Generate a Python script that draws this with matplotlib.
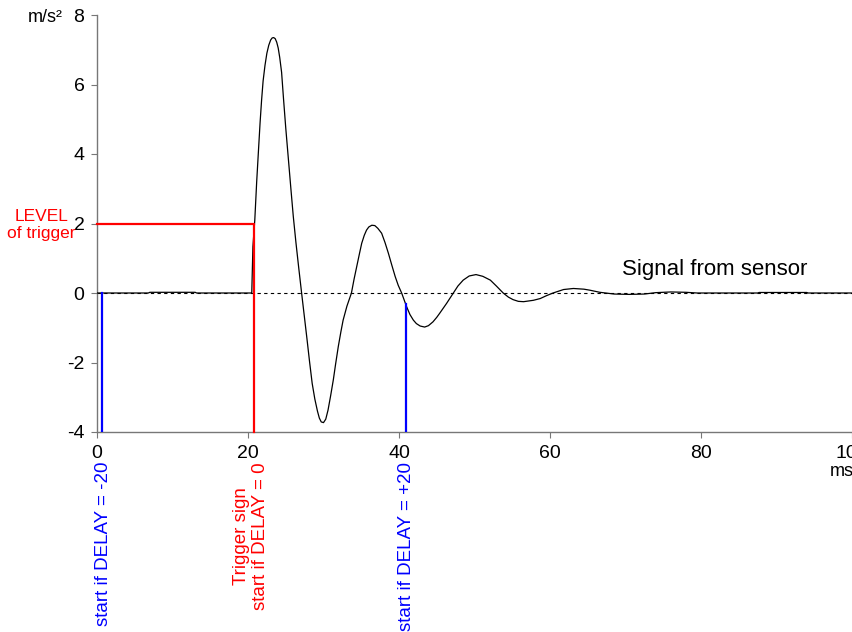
import numpy as np
import matplotlib
matplotlib.use("Agg")
import matplotlib.pyplot as plt

plt.rcParams['font.family'] = ['Liberation Sans', 'DejaVu Sans']
plt.rcParams['axes.unicode_minus'] = False

# signal (ms, m/s2)
time_ms = [0, 6.8, 7.0, 13.0, 13.2, 20.5, 20.65, 20.9, 21.15, 21.4, 21.6, 21.8,
           22.0, 22.25, 22.5, 22.75, 23.0, 23.2, 23.4, 23.6, 23.8, 24.0, 24.2,
           24.45, 24.7, 25.0, 25.35, 25.7, 26.0, 26.35, 26.7, 27.1, 27.45,
           27.8, 28.15, 28.5, 28.85, 29.2, 29.45, 29.7, 30.0, 30.3, 30.6,
           30.95, 31.3, 31.6, 31.96, 32.3, 32.6, 33.1, 33.7, 34.05, 34.4,
           34.75, 35.06, 35.4, 35.7, 36.0, 36.4, 36.8, 37.2, 37.7, 38.15,
           38.6, 39.05, 39.5, 39.9, 40.35, 41.0, 41.45, 41.9, 42.3, 42.8,
           43.4, 43.9, 44.5, 45.0, 45.4, 45.85, 46.3, 46.75, 47.2, 47.8,
           48.5, 49.3, 50.2, 51.1, 52.1, 52.9, 53.8, 54.5, 55.1, 55.8, 56.5,
           57.8, 58.7, 59.5, 60.4, 61.8, 63.1, 64.5, 65.3, 66.6, 68.5, 70.5,
           72.5, 74.0, 76.0, 78.0, 79.5, 87.5, 87.7, 94.0, 94.2, 100]
accel = [0, 0, 0.02, 0.02, 0, 0, 1.33, 2.1, 3.2, 4.15, 4.9, 5.55,
         6.1, 6.55, 6.9, 7.13, 7.28, 7.34, 7.35, 7.32, 7.22, 7.05, 6.78,
         6.35, 5.6, 4.75, 3.85, 2.95, 2.2, 1.45, 0.76, 0.0, -0.65,
         -1.3, -1.97, -2.6, -3.05, -3.4, -3.6, -3.71, -3.73, -3.63, -3.37,
         -2.95, -2.5, -2.05, -1.54, -1.12, -0.78, -0.38, 0.0, 0.4, 0.76,
         1.12, 1.43, 1.66, 1.81, 1.9, 1.95, 1.94, 1.86, 1.72, 1.45,
         1.14, 0.8, 0.47, 0.22, 0.0, -0.39, -0.62, -0.78, -0.88, -0.95,
         -0.98, -0.94, -0.83, -0.7, -0.58, -0.44, -0.3, -0.15, 0.0, 0.2,
         0.37, 0.49, 0.53, 0.48, 0.37, 0.2, 0.0, -0.12, -0.19, -0.24, -0.25,
         -0.21, -0.16, -0.08, 0.0, 0.1, 0.13, 0.11, 0.08, 0.02, -0.03, -0.04,
         -0.03, 0.01, 0.03, 0.02, 0.0, 0.0, 0.015, 0.015, 0, 0]

trigger_level = 2
trigger_time = 20.85
delay_minus = 0.6
delay_plus = 40.9
delay_plus_value = -0.33

xticks = [0, 20, 40, 60, 80, 100]
yticks = [-4, -2, 0, 2, 4, 6, 8]

fig = plt.figure(figsize=(8.53, 6.32), dpi=100)
ax = fig.add_axes([97 / 853, 1 - 432 / 632, 755 / 853, 417 / 632])

ax.axhline(0, color='black', lw=0.8, ls=(0, (3, 3)), zorder=1)
ax.plot(time_ms, accel, color='black', lw=0.9, zorder=3)

# trigger level / trigger point
ax.plot([0, trigger_time, trigger_time], [trigger_level, trigger_level, -4],
        color='red', lw=1.6, zorder=4, clip_on=False)
# delay starts
ax.plot([delay_minus, delay_minus], [0, -4], color='blue', lw=1.6, zorder=4)
ax.plot([delay_plus, delay_plus], [delay_plus_value, -4], color='blue', lw=1.6,
        zorder=4)

ax.set_xlim(0, 100)
ax.set_ylim(-4, 8)
ax.set_xticks(xticks)
ax.set_yticks(yticks)
ax.tick_params(labelsize=14, length=4, color='#777777', pad=5)
for side in ['top', 'right']:
    ax.spines[side].set_visible(False)
for side in ['left', 'bottom']:
    ax.spines[side].set_color('#777777')
    ax.spines[side].set_linewidth(1.0)

ax.text(-6.9, 7.94, "m/s²", fontsize=13, ha='center', va='center',
        clip_on=False)
ax.text(-7.4, 1.96, "LEVEL\nof trigger", fontsize=12.5, color='red',
        ha='center', va='center', multialignment='center', clip_on=False)
ax.text(69.5, 0.68, "Signal from sensor", fontsize=16, ha='left',
        va='center')
ax.text(98.7, -5.15, "ms", fontsize=13, ha='center', va='center',
        clip_on=False)

ax.text(0.8, -4.86, "start if DELAY = -20", fontsize=13.5, color='blue',
        rotation=90, ha='center', va='top', clip_on=False)
ax.text(20.4, -4.86, "Trigger sign\nstart if DELAY = 0", fontsize=13.5,
        color='red', rotation=90, ha='center', va='top',
        multialignment='center', clip_on=False)
ax.text(41.0, -4.86, "start if DELAY = +20", fontsize=13.5, color='blue',
        rotation=90, ha='center', va='top', clip_on=False)

fig.savefig("out.png", dpi=100)
